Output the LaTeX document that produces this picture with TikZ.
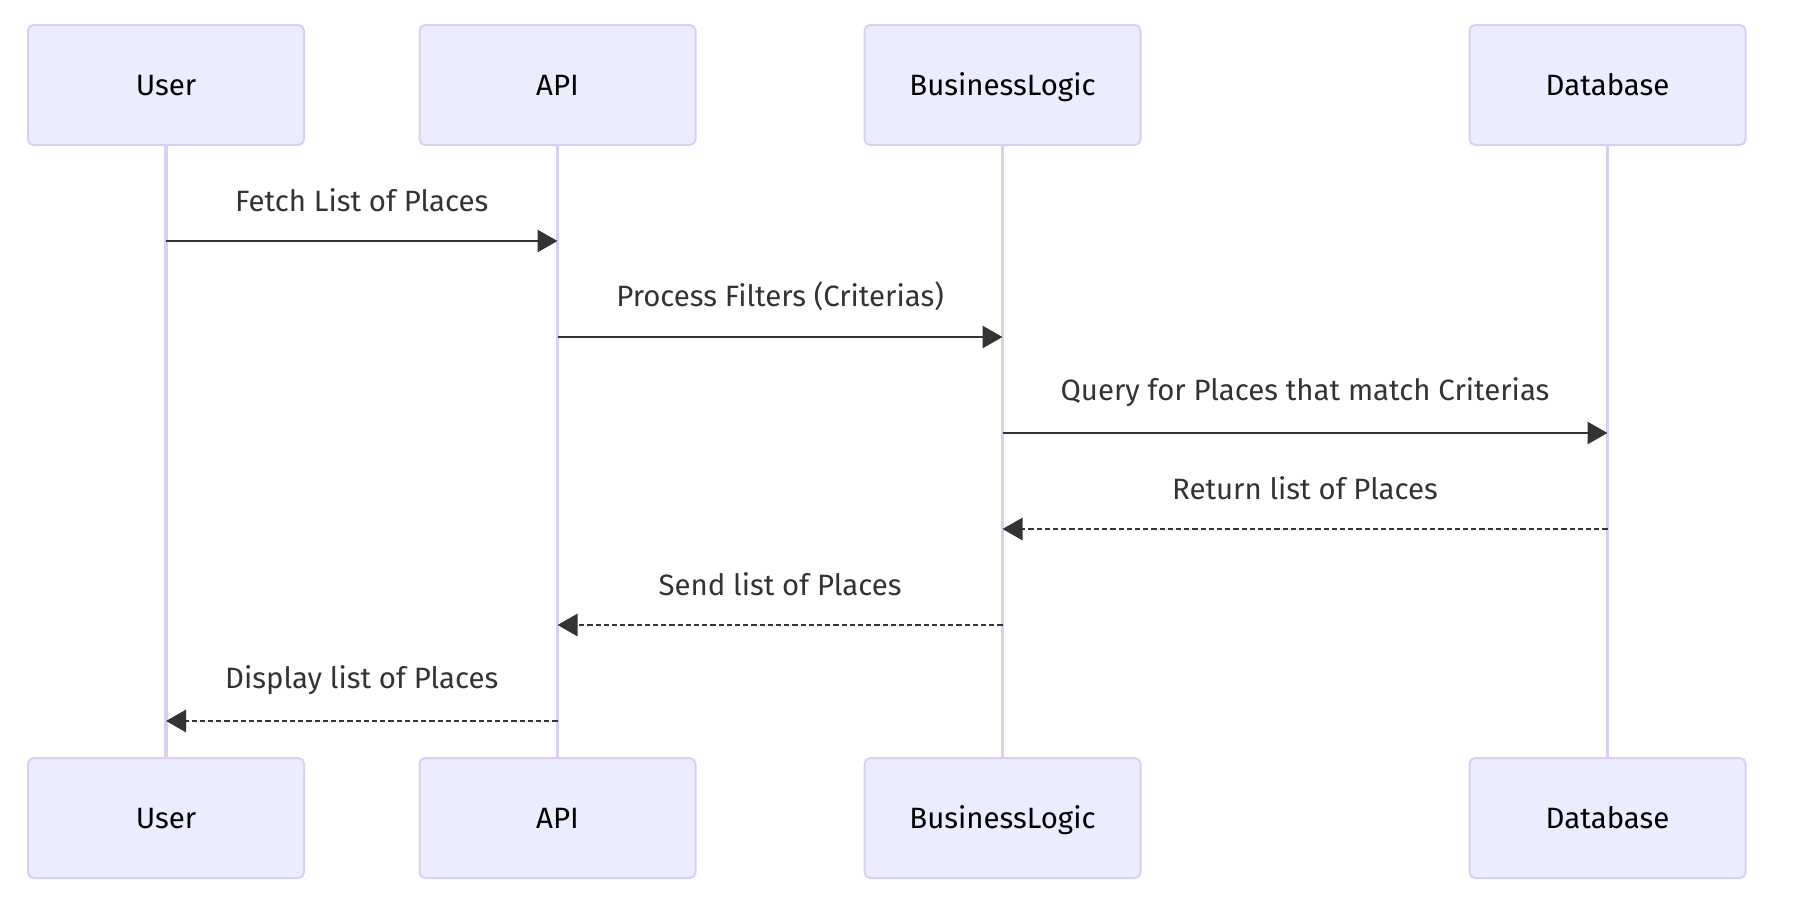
\documentclass[tikz,border=0pt]{standalone}
\usepackage{fontspec}
\setmainfont{Fira Sans}
\usetikzlibrary{arrows.meta, positioning, calc}
\definecolor{actorfill}{RGB}{236, 236, 255}
\definecolor{actorline}{RGB}{218, 206, 243}
\definecolor{msgline}{RGB}{51, 51, 51}
\tikzstyle{actor} = [rectangle, draw=actorline, fill=actorfill, minimum width=138pt, minimum height=60pt, rounded corners=2.8pt, line width=1pt, font=\fontsize{14.7}{17}\selectfont, text=black, text height=10.1pt, text depth=0pt]
\tikzstyle{lifeline} = [draw=actorline, line width=1.7pt]
\tikzstyle{msg} = [-{Triangle[length=10pt, width=11pt]}, draw=msgline, line width=1.4pt]
\tikzstyle{reply} = [msg, dash pattern=on 2.6pt off 1.5pt]
\tikzstyle{msglabel} = [font=\fontsize{14.7}{17}\selectfont, text=msgline, yshift=20.5pt]

\begin{document}
\begin{tikzpicture}[x=0.5pt, y=-0.5pt]
    \useasboundingbox (0,0) rectangle (1799,911);
    % Participants, top row
    \node[actor] (userT) at (166, 85) {User};
    \node[actor] (apiT) at (557.5, 85) {API};
    \node[actor] (logicT) at (1002.5, 85) {BusinessLogic};
    \node[actor] (dbT) at (1607.5, 85) {Database};
    % Participants, bottom row
    \node[actor] (userB) at (166, 818) {User};
    \node[actor] (apiB) at (557.5, 818) {API};
    \node[actor] (logicB) at (1002.5, 818) {BusinessLogic};
    \node[actor] (dbB) at (1607.5, 818) {Database};

    % Lifelines
    \draw[lifeline] (userT) -- (userB);
    \draw[lifeline] (apiT) -- (apiB);
    \draw[lifeline] (logicT) -- (logicB);
    \draw[lifeline] (dbT) -- (dbB);

    % Requests
    \draw[msg] (userT |- 0,241) -- node[msglabel] {Fetch List of Places} (apiT |- 0,241);
    \draw[msg] (apiT |- 0,337) -- node[msglabel] {Process Filters (Criterias)} (logicT |- 0,337);
    \draw[msg] (logicT |- 0,433) -- node[msglabel] {Query for Places that match Criterias} (dbT |- 0,433);

    % Replies
    \draw[reply] (dbT |- 0,529) -- node[msglabel] {Return list of Places} (logicT |- 0,529);
    \draw[reply] (logicT |- 0,625) -- node[msglabel] {Send list of Places} (apiT |- 0,625);
    \draw[reply] (apiT |- 0,721) -- node[msglabel] {Display list of Places} (userT |- 0,721);
\end{tikzpicture}
\end{document}
